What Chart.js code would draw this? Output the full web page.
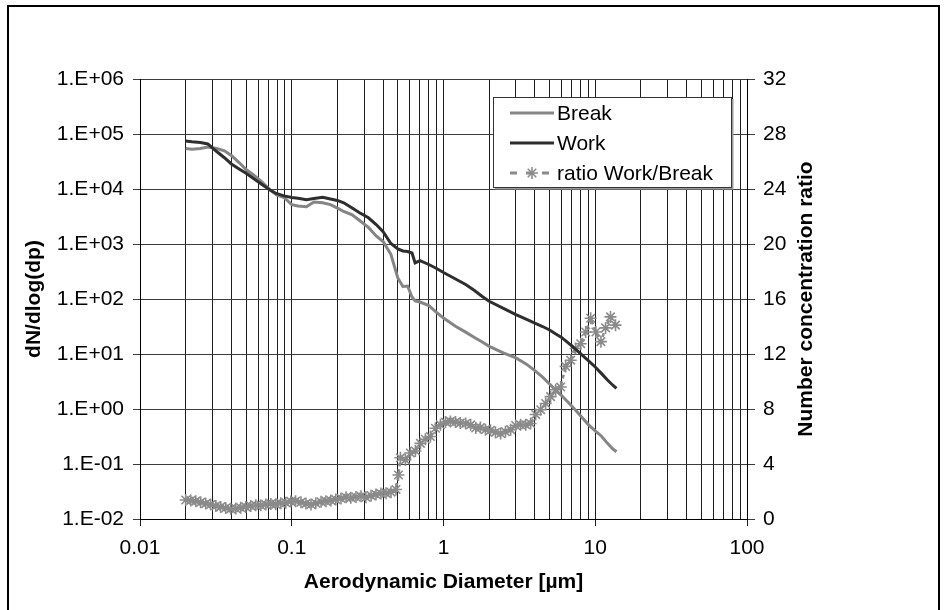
<!DOCTYPE html>
<html>
<head>
<meta charset="utf-8">
<title>Particle size distribution</title>
<script src="https://cdn.jsdelivr.net/npm/chart.js@4.4.1/dist/chart.umd.min.js"></script>
<style>
    body { margin: 0; background: #fff; }
    #wrap { width: 948px; height: 610px; }
</style>
</head>
<body>
<div id="wrap"><canvas id="sizeChart" width="948" height="610"></canvas></div>
<script>
/* ---------------- Data ---------------- */

// aerodynamic diameter (µm) of the Break / Work readings
const sizeBins = [0.020, 0.022, 0.025, 0.028, 0.032, 0.036, 0.040, 0.045, 0.050, 0.056,
    0.063, 0.071, 0.079, 0.089, 0.10, 0.11, 0.125, 0.14, 0.16, 0.18,
    0.20, 0.22, 0.25, 0.28, 0.32, 0.36, 0.40, 0.45, 0.50, 0.54,
    0.58, 0.62, 0.65, 0.70, 0.80, 0.90, 1.0, 1.2, 1.4, 1.6,
    1.8, 2.0, 2.5, 3.0, 3.5, 4.0, 4.5, 5.0, 5.5, 6.0,
    7.0, 8.0, 9.0, 10, 11, 12, 13, 13.8];

const breakValues = [54500, 52700, 54500, 58000, 54500, 49500, 40700, 30300, 22600, 18000,
    13700, 10000, 7900, 7000, 5200, 4900, 4770, 5800, 5600, 5200,
    4500, 3900, 3400, 2670, 2000, 1400, 1110, 650, 241, 169,
    172, 109, 92, 88, 76, 57, 45, 32, 25, 20,
    16.5, 13.8, 10.4, 8.5, 6.6, 5.0, 3.8, 2.85, 2.17, 1.76,
    1.13, 0.75, 0.52, 0.40, 0.32, 0.24, 0.19, 0.167];

const workValues = [74600, 72000, 70000, 66000, 48000, 37000, 28500, 23000, 19300, 15500,
    12300, 9800, 8300, 7500, 7000, 6800, 6400, 6700, 7100, 6600,
    6200, 5600, 4500, 3700, 3000, 2260, 1680, 1020, 811, 746,
    731, 686, 452, 497, 424, 359, 303, 231, 184, 143,
    111, 91, 67, 52, 43, 36.6, 31.6, 27.3, 23.1, 20,
    14, 10.2, 7.6, 5.8, 4.4, 3.4, 2.73, 2.38];

// diameters (µm) of the Work/Break ratio readings
const ratioBins = [0.0200, 0.0216, 0.0233, 0.0251, 0.0271, 0.0292, 0.0316, 0.0340, 0.0367, 0.0396,
    0.0428, 0.0461, 0.0498, 0.0537, 0.0579, 0.0625, 0.0675, 0.0728, 0.0785, 0.0847,
    0.0914, 0.0986, 0.106, 0.115, 0.124, 0.134, 0.144, 0.156, 0.168, 0.181,
    0.195, 0.211, 0.228, 0.245, 0.265, 0.286, 0.308, 0.333, 0.359, 0.387,
    0.418, 0.451, 0.486, 0.505, 0.520, 0.561, 0.605, 0.653, 0.705, 0.760,
    0.820, 0.885, 0.955, 1.03, 1.11, 1.20, 1.29, 1.40, 1.51, 1.63,
    1.75, 1.89, 2.04, 2.20, 2.38, 2.56, 2.77, 2.99, 3.22, 3.48,
    3.75, 4.05, 4.37, 4.71, 5.08, 5.48, 5.92, 6.38, 6.89, 7.43,
    8.02, 8.65, 9.33, 10.1, 10.9, 11.7, 12.6, 13.6];

const ratioValues = [1.38, 1.35, 1.30, 1.22, 1.12, 1.05, 0.95, 0.88, 0.80, 0.74,
    0.76, 0.82, 0.88, 0.95, 1.00, 1.00, 1.05, 1.10, 1.08, 1.15,
    1.18, 1.28, 1.30, 1.22, 1.12, 1.05, 1.15, 1.25, 1.30, 1.35,
    1.42, 1.50, 1.58, 1.55, 1.60, 1.65, 1.58, 1.70, 1.78, 1.85,
    1.88, 1.95, 2.15, 3.2, 4.45, 4.3, 4.8, 4.95, 5.5, 5.8,
    6.0, 6.6, 6.85, 7.05, 7.1, 7.05, 6.98, 6.95, 6.85, 6.62,
    6.65, 6.5, 6.45, 6.3, 6.22, 6.35, 6.5, 6.8, 6.85, 6.85,
    6.95, 7.6, 7.95, 8.4, 8.9, 9.4, 9.6, 11.1, 11.55, 12.4,
    12.75, 13.6, 14.6, 13.6, 12.9, 13.9, 14.7, 14.1];

const xTickValues = [0.01, 0.1, 1, 10, 100];
const xTickLabels = ["0.01", "0.1", "1", "10", "100"];

const yTickValues = [0.01, 0.1, 1, 10, 100, 1e3, 1e4, 1e5, 1e6];
const yTickLabels = ["1.E-02", "1.E-01", "1.E+00", "1.E+01", "1.E+02",
    "1.E+03", "1.E+04", "1.E+05", "1.E+06"];

const seriesNames = ["Break", "Work", "ratio Work/Break"];

/* ---------------- Styles ---------------- */

const FONT = "'Liberation Sans', Arial, sans-serif";
const FONT_SIZE = 21;
const BREAK_COLOR = "#858585";
const WORK_COLOR = "#2e2e2e";
const RATIO_COLOR = "#8a8a8a";

Chart.defaults.font.family = FONT;
Chart.defaults.font.size = FONT_SIZE;
Chart.defaults.color = "#000";

// vertical grid at 1..9 of every decade
const xGridValues = [];
for (let d = 0; d < xTickValues.length - 1; d++) {
    for (let k = 1; k <= 9; k++) {
        xGridValues.push(k === 1 ? xTickValues[d] : k * xTickValues[d]);
    }
}
xGridValues.push(xTickValues[xTickValues.length - 1]);

function pairs(xs, ys) {
    return xs.map((x, i) => ({ x: x, y: ys[i] }));
}

/* ---------------- Legend, right title, frame ---------------- */

function drawStar(ctx, x, y, r) {
    ctx.beginPath();
    for (let a = 0; a < 4; a++) {
        const ang = a * Math.PI / 4;
        ctx.moveTo(x - r * Math.cos(ang), y - r * Math.sin(ang));
        ctx.lineTo(x + r * Math.cos(ang), y + r * Math.sin(ang));
    }
    ctx.stroke();
}

const overlay = {
    id: "overlay",
    afterDraw(chart) {
        const ctx = chart.ctx;
        const area = chart.chartArea;

        // right axis title, reading bottom to top
        ctx.save();
        ctx.translate(806, (area.top + area.bottom) / 2);
        ctx.rotate(-Math.PI / 2);
        ctx.font = "bold " + FONT_SIZE + "px " + FONT;
        ctx.fillStyle = "#000";
        ctx.textAlign = "center";
        ctx.textBaseline = "middle";
        ctx.fillText("Number concentration ratio", 0, 0);
        ctx.restore();

        // legend box
        ctx.save();
        ctx.fillStyle = "#fff";
        ctx.fillRect(493, 97, 238, 90);
        ctx.strokeStyle = "#9a9a9a";
        ctx.lineWidth = 2;
        ctx.beginPath();
        ctx.moveTo(495, 188.5);
        ctx.lineTo(732.5, 188.5);
        ctx.lineTo(732.5, 99);
        ctx.stroke();
        ctx.strokeStyle = "#333";
        ctx.lineWidth = 1;
        ctx.strokeRect(493.5, 97.5, 238, 90);

        const rows = [113, 143, 173];
        ctx.lineWidth = 3;
        ctx.strokeStyle = BREAK_COLOR;
        ctx.beginPath(); ctx.moveTo(510, rows[0]); ctx.lineTo(554, rows[0]); ctx.stroke();
        ctx.strokeStyle = WORK_COLOR;
        ctx.beginPath(); ctx.moveTo(510, rows[1]); ctx.lineTo(554, rows[1]); ctx.stroke();
        ctx.strokeStyle = RATIO_COLOR;
        ctx.setLineDash([7, 9]);
        ctx.beginPath(); ctx.moveTo(510, rows[2]); ctx.lineTo(556, rows[2]); ctx.stroke();
        ctx.setLineDash([]);
        ctx.lineWidth = 1.5;
        drawStar(ctx, 532, rows[2], 6);

        ctx.font = FONT_SIZE + "px " + FONT;
        ctx.fillStyle = "#000";
        ctx.textAlign = "left";
        ctx.textBaseline = "middle";
        seriesNames.forEach((name, i) => ctx.fillText(name, 557, rows[i] + 1));
        ctx.restore();

        // outer frame
        ctx.save();
        ctx.strokeStyle = "#000";
        ctx.lineWidth = 2;
        ctx.strokeRect(8, 6, 931, 620);
        ctx.restore();
    }
};

/* ---------------- Chart ---------------- */

new Chart(document.getElementById("sizeChart"), {
    type: "line",
    data: {
        datasets: [
            {
                label: seriesNames[0],
                data: pairs(sizeBins, breakValues),
                yAxisID: "y",
                borderColor: BREAK_COLOR,
                borderWidth: 3,
                pointRadius: 0,
                tension: 0,
                order: 2
            },
            {
                label: seriesNames[1],
                data: pairs(sizeBins, workValues),
                yAxisID: "y",
                borderColor: WORK_COLOR,
                borderWidth: 3,
                pointRadius: 0,
                tension: 0,
                order: 0
            },
            {
                label: seriesNames[2],
                data: pairs(ratioBins, ratioValues),
                yAxisID: "y2",
                borderColor: RATIO_COLOR,
                borderWidth: 2.5,
                borderDash: [4, 3],
                pointStyle: "star",
                pointRadius: 6,
                pointBorderWidth: 1.6,
                pointBorderColor: RATIO_COLOR,
                pointBackgroundColor: RATIO_COLOR,
                tension: 0,
                order: 1
            }
        ]
    },
    options: {
        responsive: false,
        animation: false,
        devicePixelRatio: 1,
        layout: { padding: { top: 79, left: 0, right: 0, bottom: 0 } },
        plugins: {
            legend: { display: false },
            tooltip: { enabled: false }
        },
        scales: {
            x: {
                type: "logarithmic",
                position: "bottom",
                min: 0.01,
                max: 100,
                afterBuildTicks: s => { s.ticks = xGridValues.map(v => ({ value: v })); },
                afterFit: s => { s.height = 91; },
                ticks: {
                    autoSkip: false,
                    maxRotation: 0,
                    padding: 10,
                    callback: v => {
                        const i = xTickValues.indexOf(v);
                        return i >= 0 ? xTickLabels[i] : "";
                    }
                },
                grid: {
                    color: "#1e1e1e",
                    lineWidth: 1,
                    tickLength: 7,
                    tickColor: c => xTickValues.includes(c.tick && c.tick.value) ? "#1e1e1e" : "rgba(0,0,0,0)"
                },
                border: { color: "#000", width: 1 },
                title: {
                    display: true,
                    text: "Aerodynamic Diameter [µm]",
                    font: { size: FONT_SIZE, weight: "bold" },
                    padding: { top: 0, bottom: 15 }
                }
            },
            y: {
                type: "logarithmic",
                position: "left",
                min: 0.01,
                max: 1e6,
                afterBuildTicks: s => { s.ticks = yTickValues.map(v => ({ value: v })); },
                afterFit: s => { s.width = 140; },
                ticks: {
                    padding: 9,
                    callback: v => yTickLabels[yTickValues.indexOf(v)]
                },
                grid: { color: "#3c3c3c", lineWidth: 1, tickLength: 7 },
                border: { color: "#000", width: 1 },
                title: {
                    display: true,
                    text: "dN/dlog(dp)",
                    font: { size: FONT_SIZE, weight: "bold" },
                    padding: { top: 22, bottom: 0 }
                }
            },
            y2: {
                type: "linear",
                position: "right",
                min: 0,
                max: 32,
                afterFit: s => { s.width = 201; },
                ticks: { stepSize: 4, padding: 8 },
                grid: { drawOnChartArea: false, color: "#3c3c3c", tickLength: 8 },
                border: { color: "#000", width: 1 }
            }
        }
    },
    plugins: [overlay]
});
</script>
</body>
</html>
